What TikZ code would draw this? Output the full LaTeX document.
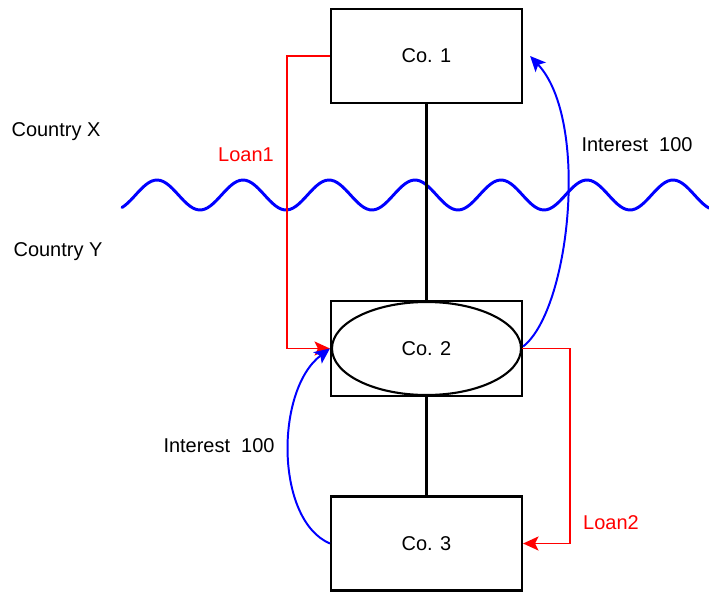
\documentclass[tikz,border=0pt]{standalone}
\usepackage{fontspec}
\setmainfont{Liberation Sans}
\usetikzlibrary{arrows.meta,calc,shapes.geometric}

\tikzset{
    company/.style={draw, line width=1.5pt, minimum width=4.775cm, minimum height=2.35cm,
        font=\fontsize{14.2}{17}\selectfont},
    loan/.style={draw=red, line width=1.4pt, -{Stealth[length=11pt,width=10pt,inset=2.5pt]}},
    interest/.style={draw=blue, line width=1.4pt, -{Stealth[length=11pt,width=10pt,inset=2.5pt]}},
    label/.style={font=\fontsize{14.2}{17}\selectfont}
}

\begin{document}
\begin{tikzpicture}[x=0.025cm, y=-0.025cm]

\useasboundingbox (0,0) rectangle (709,591);

% countries
\node (cx) [label] at (56,132) {Country X};
\node (cy) [label] at (58,252) {Country Y};

% border
\draw [blue, line width=2.1pt, line cap=round]
    plot[domain=122:709, samples=200] (\x, {195-15*sin(4.186*(\x-135.5))});

\node (co1) [company] at (426.5,56) {Co. 1};

\node (co2) [company, minimum height=2.375cm] at (426.5,348.5) {};
\node (co2e) [draw, ellipse, line width=1.5pt,
    minimum width=4.725cm,
    minimum height=2.325cm,
    font=\fontsize{14.2}{17}\selectfont
] at (co2) {Co. 2};

\node (co3) [company] at (426.5,543.5) {Co. 3};

\draw [line width=1.5pt] (co1) -- (co2);
\draw [line width=1.5pt] (co2) -- (co3);

% loans
\draw [loan] (co1.west) -| ($(co1.west)+(-43,0)$) |- (co2.west);
\node (loan1) [label, text=red] at (246,155) {Loan1};

\draw [loan] (co2e.east) -| ($(co2.east)+(47,0)$) |- (co3.east);
\node (loan2) [label, text=red] at (611,523) {Loan2};

% interest
\draw [interest] ($(co2e.east)+(1,-2)$) .. controls (570,310) and (590,120) .. ($(co1.east)+(7,0)$);
\node (int1) [label] at (637,145) {Interest\ \ 100};

\draw [interest] (co3.west) .. controls (275,520) and (275,390) .. (co2.west);
\node (int2) [label] at (219,446) {Interest\ \ 100};

\end{tikzpicture}
\end{document}
